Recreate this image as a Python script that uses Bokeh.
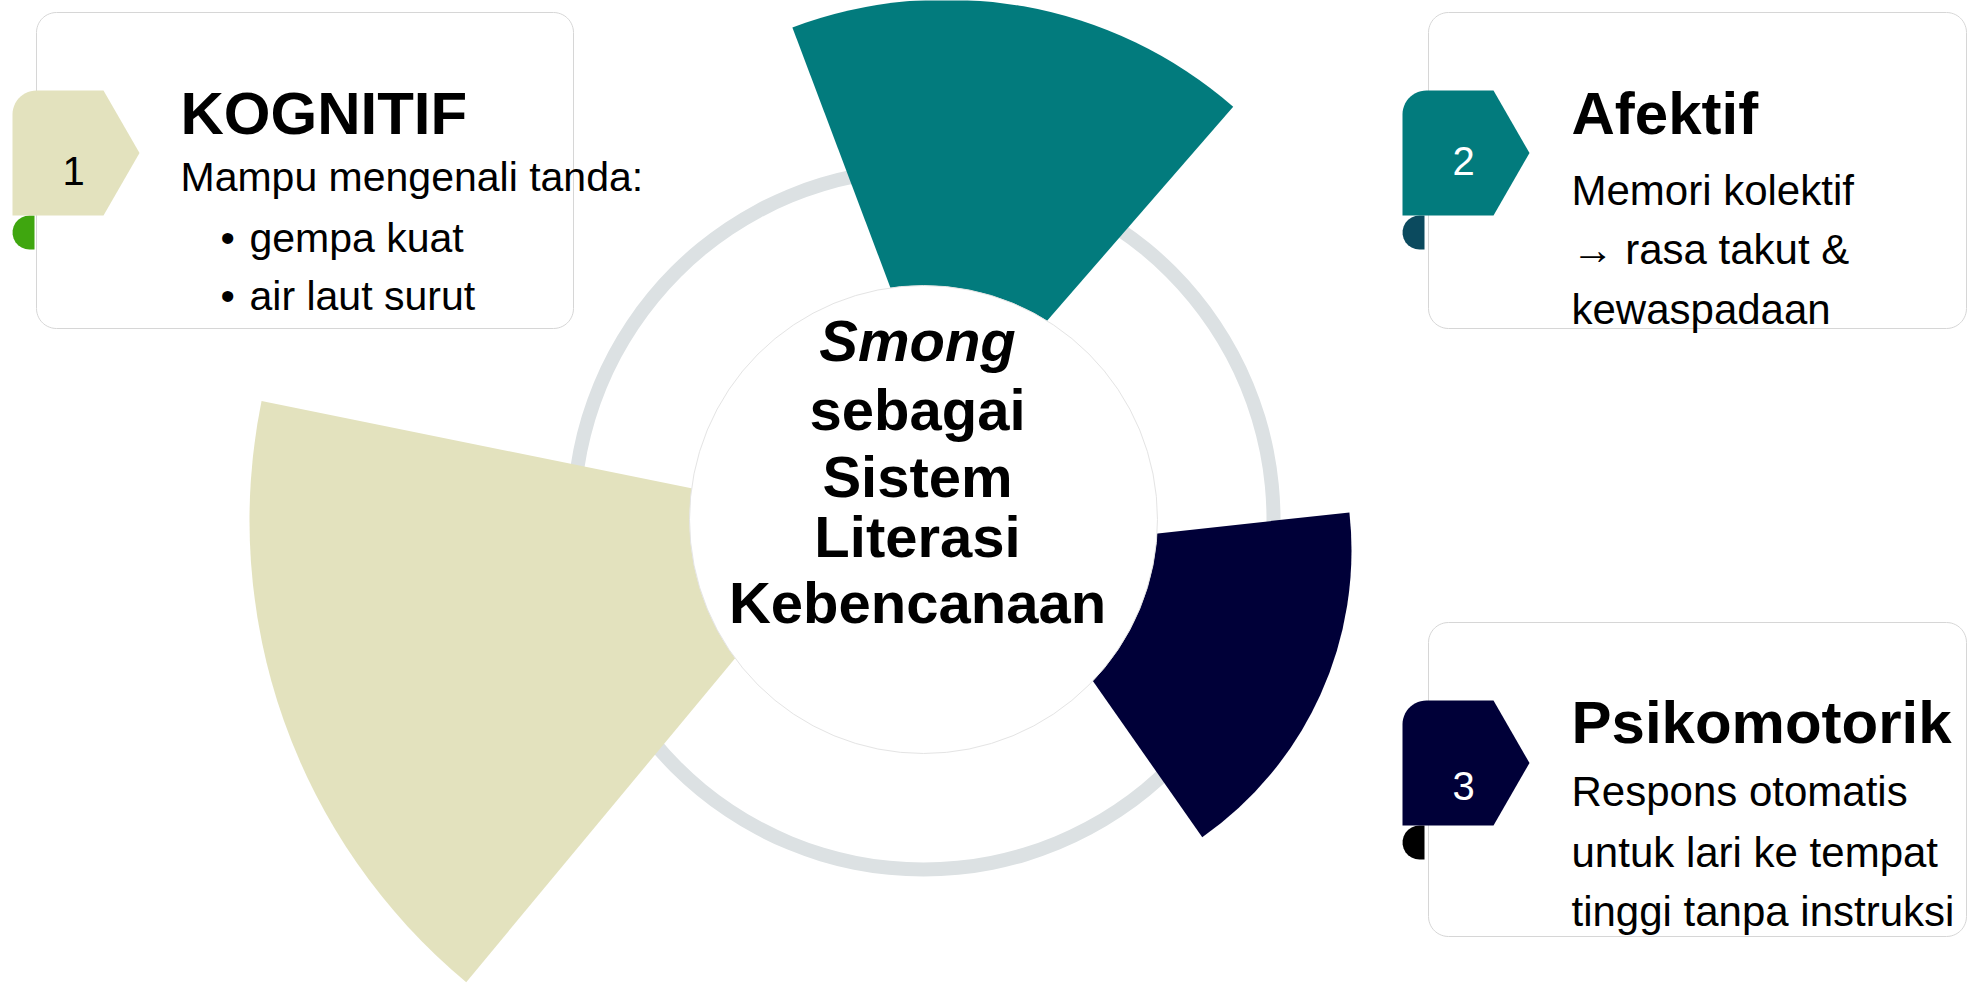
import numpy as np
from bokeh.plotting import figure
from bokeh.models import Range1d
from bokeh.core.properties import value
from bokeh.embed import file_html
from bokeh.resources import INLINE

# ---------------- data ----------------
dimensions = ["Kognitif", "Afektif", "Psikomotorik"]
petal_radius = [600, 437, 350]            # length of each petal
petal_start_deg = [168.5, 49.0, -55.0]
petal_end_deg = [230.3, 110.65, 6.25]
petal_colors = ["#E3E2BE", "#027B7D", "#000038"]
curl_colors = ["#3FA60F", "#0B4A5E", "#000000"]
number_colors = ["#000000", "#FFFFFF", "#FFFFFF"]

card_numbers = ["1", "2", "3"]
card_titles = ["KOGNITIF", "Afektif", "Psikomotorik"]
card_intro = ["Mampu mengenali tanda:", "Memori kolektif", "Respons otomatis"]
card_bullets = ["gempa kuat", "air laut surut"]
card2_rest = ["\u2192 rasa takut &", "kewaspadaan"]
card3_rest = ["untuk lari ke tempat", "tinggi tanpa instruksi"]
center_lines = ["Smong", "sebagai", "Sistem", "Literasi", "Kebencanaan"]

# ---------------- layout (screen px, y down) ----------------
REF_W, REF_H = 1970, 983
def Y(y):
    return REF_H - y

FONT = value("Liberation Sans")
W, H = 1970, 983
p = figure(width=W, height=H, x_range=Range1d(0, W), y_range=Range1d(REF_H - H, REF_H),
           output_backend="svg", toolbar_location=None, min_border=0,
           x_axis_location=None, y_axis_location=None)
p.grid.visible = False
p.outline_line_color = None
p.background_fill_color = "white"
p.border_fill_color = "white"

def arc(cx, cy, r, a0, a1, n=14):
    t = np.radians(np.linspace(a0, a1, n))
    return list(cx + r * np.cos(t)), list(cy + r * np.sin(t))

def rrect(x0, y0, x1, y1, r):
    top, bot = Y(y0), Y(y1)
    xs, ys = [], []
    for cx, cy, a0, a1 in [(x1 - r, top - r, 0, 90), (x0 + r, top - r, 90, 180),
                           (x0 + r, bot + r, 180, 270), (x1 - r, bot + r, 270, 360)]:
        ax, ay = arc(cx, cy, r, a0, a1)
        xs += ax; ys += ay
    return xs, ys

def tag(left, top, flat_w=91, point_w=36, h=125, r=24):
    T, B = Y(top), Y(top + h)
    M = (T + B) / 2
    xs = [left, left + flat_w, left + flat_w + point_w, left + flat_w]
    ys = [B, B, M, T]
    ax, ay = arc(left + r, T - r, r, 90, 180)
    return xs + ax, ys + ay

def curl(left, top, w=22, h=34):
    T = Y(top)
    rr = h / 2
    ax, ay = arc(left + rr, T - rr, rr, 90, 270)
    return [left + w] + ax + [left + w], [T] + ay + [T - h]

# cards
card_boxes = [(36, 12, 573, 328), (1428, 12, 1966, 328), (1428, 622, 1966, 936)]
cx_, cy_ = [], []
for b in card_boxes:
    xs, ys = rrect(*b, 20)
    cx_.append(xs); cy_.append(ys)
p.patches(xs=cx_, ys=cy_, fill_color="white", line_color="#D6D6D6", line_width=1)

# tags + curls
tag_pos = [(12, 90), (1402, 90), (1402, 700)]
txs, tys, uxs, uys = [], [], [], []
for (l, t) in tag_pos:
    a, b = tag(l, t); txs.append(a); tys.append(b)
    a, b = curl(l, t + 125); uxs.append(a); uys.append(b)
p.patches(xs=uxs, ys=uys, fill_color=curl_colors, line_color=None)
p.patches(xs=txs, ys=tys, fill_color=petal_colors, line_color=None)
num_y = [170, 160, 785]
p.text(x=[l + 61 for l, t in tag_pos], y=[Y(v) for v in num_y], text=card_numbers,
       text_color=number_colors, text_font=FONT, text_font_size="40px",
       text_align="center", text_baseline="alphabetic")

# ring
C = (923, 519)
p.annulus(x=[C[0]], y=[Y(C[1])], inner_radius=343, outer_radius=357,
          fill_color="#DCE1E3", line_color=None)

# petals (exploded)
apex = [(849, 520), (946, 436), (1001, 550)]
p.wedge(x=[a[0] for a in apex], y=[Y(a[1]) for a in apex], radius=petal_radius,
        start_angle=list(np.radians(petal_start_deg)), end_angle=list(np.radians(petal_end_deg)),
        fill_color=petal_colors, line_color=None)

# center disc
p.circle(x=[C[0]], y=[Y(C[1])], radius=234, fill_color="white", line_color="#E4E4E4", line_width=1)

# titles
title_pos = [(180, 113), (1571, 113), (1571, 722)]
p.text(x=[t[0] for t in title_pos], y=[Y(t[1]) for t in title_pos], text=card_titles,
       text_font=FONT, text_font_size="60px", text_font_style="bold", text_color="black",
       text_baseline="alphabetic")

# body texts
p.text(x=[180], y=[Y(176)], text=card_intro[:1], text_font=FONT, text_font_size="41px",
       text_color="black", text_baseline="alphabetic")
p.text(x=[1571, 1571], y=[Y(190), Y(791)], text=card_intro[1:], text_font=FONT, text_font_size="42px",
       text_color="black", text_baseline="alphabetic")
bullet_y = [237, 295]
p.text(x=[220, 220], y=[Y(v) for v in bullet_y], text=["\u2022", "\u2022"], text_font=FONT,
       text_font_size="41px", text_color="black", text_baseline="alphabetic")
p.text(x=[249, 249], y=[Y(v) for v in bullet_y], text=card_bullets, text_font=FONT,
       text_font_size="41px", text_color="black", text_baseline="alphabetic")
p.text(x=[1571, 1571], y=[Y(249), Y(309)], text=card2_rest, text_font=FONT,
       text_font_size="42px", text_color="black", text_baseline="alphabetic")
p.text(x=[1571, 1571], y=[Y(852), Y(911)], text=card3_rest, text_font=FONT,
       text_font_size="42px", text_color="black", text_baseline="alphabetic")

# center label
center_y = [340, 409, 476, 536, 602]
p.text(x=[917], y=[Y(center_y[0])], text=center_lines[:1], text_font=FONT, text_font_size="58px",
       text_font_style="bold italic", text_color="black", text_align="center", text_baseline="alphabetic")
p.text(x=[917] * 4, y=[Y(v) for v in center_y[1:]], text=center_lines[1:], text_font=FONT,
       text_font_size="58px", text_font_style="bold", text_color="black", text_align="center",
       text_baseline="alphabetic")

open("out.html", "w").write(file_html(p, INLINE))
